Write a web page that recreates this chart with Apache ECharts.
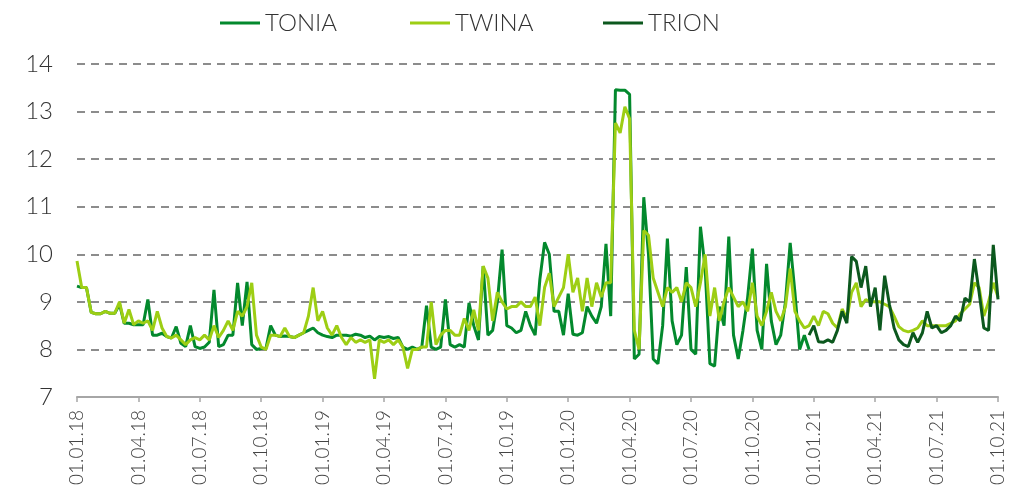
<!DOCTYPE html>
<html>
<head>
<meta charset="utf-8">
<script src="https://cdn.jsdelivr.net/npm/echarts@6/dist/echarts.min.js"></script>
<style>
html, body { margin: 0; padding: 0; background: #fff; }
#chart { width: 1025px; height: 496px; }
</style>
</head>
<body>
<div id="chart"></div>
<script>
// quarter start labels, 13 weekly points per quarter
var quarterLabels = ['01.01.18','01.04.18','01.07.18','01.10.18','01.01.19','01.04.19','01.07.19','01.10.19',
    '01.01.20','01.04.20','01.07.20','01.10.20','01.01.21','01.04.21','01.07.21','01.10.21'];
var weeksPerQuarter = 13;

// weekly values
var tonia = [
    9.33, 9.3, 9.3, 8.78, 8.75, 8.75, 8.8, 8.76, 8.76, 8.95, 8.55, 8.55, 8.52,
    8.52, 8.52, 9.05, 8.3, 8.3, 8.34, 8.27, 8.24, 8.48, 8.13, 8.06, 8.5, 8.06,
    8.02, 8.05, 8.15, 9.25, 8.06, 8.1, 8.3, 8.3, 9.4, 8.5, 9.42, 8.1, 8.0,
    8.02, 8.02, 8.5, 8.3, 8.27, 8.28, 8.27, 8.25, 8.3, 8.35, 8.4, 8.45, 8.35,
    8.3, 8.27, 8.25, 8.3, 8.3, 8.3, 8.28, 8.32, 8.3, 8.25, 8.28, 8.2, 8.27,
    8.25, 8.27, 8.23, 8.25, 8.05, 8.0, 8.05, 8.0, 8.05, 8.92, 8.05, 8.0, 8.05,
    9.05, 8.1, 8.05, 8.1, 8.05, 8.98, 8.5, 8.2, 9.75, 8.3, 8.4, 9.0, 10.1,
    8.5, 8.45, 8.35, 8.4, 8.8, 8.5, 8.3, 9.47, 10.25, 10.0, 8.8, 8.8, 8.3,
    9.17, 8.32, 8.3, 8.35, 8.9, 8.7, 8.55, 8.9, 10.22, 8.7, 13.46, 13.45, 13.45,
    13.36, 7.8, 7.9, 11.2, 10.0, 7.8, 7.7, 8.5, 10.33, 8.6, 8.1, 8.3, 9.73,
    8.0, 7.9, 10.58, 9.7, 7.7, 7.65, 8.9, 8.5, 10.37, 8.3, 7.8, 8.4, 9.1,
    10.12, 8.4, 8.0, 9.8, 8.6, 8.1, 8.3, 9.0, 10.24, 9.2, 8.0, 8.3, 8.0
];
var twina = [
    9.86, 9.3, 9.3, 8.78, 8.75, 8.75, 8.8, 8.76, 8.76, 9.0, 8.55, 8.84, 8.52,
    8.6, 8.55, 8.6, 8.4, 8.8, 8.45, 8.27, 8.24, 8.3, 8.2, 8.1, 8.2, 8.25,
    8.2, 8.3, 8.2, 8.5, 8.25, 8.4, 8.6, 8.4, 8.8, 8.7, 8.9, 9.4, 8.3,
    8.05, 8.0, 8.3, 8.3, 8.27, 8.45, 8.27, 8.25, 8.3, 8.35, 8.7, 9.3, 8.6,
    8.8, 8.45, 8.3, 8.5, 8.25, 8.1, 8.25, 8.15, 8.2, 8.15, 8.2, 7.38, 8.2,
    8.15, 8.2, 8.1, 8.2, 8.05, 7.6, 8.0, 8.0, 8.05, 8.05, 9.0, 8.1, 8.3,
    8.4, 8.4, 8.3, 8.3, 8.65, 8.4, 8.83, 8.4, 9.75, 9.5, 8.6, 9.2, 9.0,
    8.85, 8.9, 8.9, 9.0, 8.9, 8.9, 9.1, 8.5, 9.3, 9.6, 8.9, 9.1, 9.3,
    10.0, 9.2, 9.5, 8.8, 9.5, 8.9, 9.4, 9.1, 9.4, 9.4, 12.76, 12.55, 13.1,
    12.85, 8.4, 8.0, 10.5, 10.4, 9.5, 9.2, 8.9, 9.3, 9.2, 9.3, 9.0, 9.4,
    9.3, 8.9, 9.4, 10.0, 8.7, 9.3, 8.6, 9.0, 9.3, 9.1, 8.9, 9.0, 8.8,
    9.4, 8.7, 8.5, 8.8, 9.2, 8.8, 8.6, 8.9, 9.7, 8.8, 8.6, 8.45, 8.5,
    8.7, 8.5, 8.8, 8.75, 8.55, 8.45, 8.85, 8.65, 9.2, 9.4, 8.9, 9.05, 9.0,
    9.0, 9.0, 8.95, 8.9, 8.7, 8.48, 8.4, 8.37, 8.4, 8.45, 8.6, 8.5, 8.5,
    8.5, 8.5, 8.5, 8.55, 8.6, 8.75, 8.85, 8.95, 9.4, 9.3, 8.7, 9.0, 9.4,
    9.1
];
// TRION starts at week 155 (end of 2020)
var trionStart = 155;
var trion = [
    8.3, 8.5, 8.16, 8.15, 8.2, 8.15, 8.4, 8.8, 8.55, 9.95, 9.85, 9.3, 9.75, 8.9,
    9.3, 8.4, 9.55, 8.95, 8.45, 8.2, 8.1, 8.06, 8.35, 8.15, 8.35, 8.8, 8.45,
    8.5, 8.35, 8.4, 8.5, 8.7, 8.6, 9.08, 9.0, 9.9, 9.2, 8.45, 8.4, 10.2, 9.05
];

var seriesNames = ['TONIA', 'TWINA', 'TRION'];
var seriesColors = ['#03892d', '#9dce14', '#0c581e'];
var legendLeft = [215, 405, 598];

var categories = [];
for (var q = 0; q < quarterLabels.length; q++) {
    if (q === quarterLabels.length - 1) { categories.push(quarterLabels[q]); break; }
    for (var w = 0; w < weeksPerQuarter; w++) {
        categories.push(w === 0 ? quarterLabels[q] : quarterLabels[q] + '+' + w);
    }
}
var trionData = new Array(trionStart).fill(null).concat(trion);

var showQuarter = function (idx) { return idx % weeksPerQuarter === 0; };
var font = 'Lato, "Noto Sans", sans-serif';

var myChart = echarts.init(document.getElementById('chart'));
option = {
    animation: false,
    backgroundColor: '#fff',
    legend: seriesNames.map(function (n, k) {
        return {
            data: [n],
            left: legendLeft[k],
            top: 6,
            icon: 'rect',
            itemWidth: 40,
            itemHeight: 3,
            textStyle: { fontFamily: font, fontWeight: 300, fontSize: 24, color: '#333' }
        };
    }),
    grid: { left: 77, right: 27, top: 64, bottom: 99 },
    xAxis: {
        type: 'category',
        data: categories,
        boundaryGap: false,
        axisLine: { lineStyle: { color: '#a6a6a6', width: 2 } },
        axisTick: { interval: showQuarter, length: 5, lineStyle: { color: '#a6a6a6', width: 1.5 } },
        axisLabel: {
            interval: showQuarter,
            rotate: 90,
            margin: 13,
            fontFamily: font,
            fontWeight: 300,
            fontSize: 19,
            color: '#444',
            formatter: function (v) { return v; }
        },
        splitLine: { show: false }
    },
    yAxis: {
        type: 'value',
        min: 7,
        max: 14,
        interval: 1,
        axisLine: { show: false },
        axisTick: { show: false },
        axisLabel: { margin: 24, fontFamily: font, fontWeight: 300, fontSize: 24, color: '#333' },
        splitLine: { lineStyle: { color: '#8c8c8c', width: 2, type: [8, 6] } }
    },
    series: [
        { name: 'TONIA', type: 'line', data: tonia },
        { name: 'TWINA', type: 'line', data: twina },
        { name: 'TRION', type: 'line', data: trionData }
    ].map(function (s, k) {
        s.showSymbol = false;
        s.symbol = 'none';
        s.color = seriesColors[k];
        s.lineStyle = { width: 3, color: seriesColors[k] };
        return s;
    })
};
if (option && typeof option === "object") {
    myChart.setOption(option, true);
}
</script>
</body>
</html>
